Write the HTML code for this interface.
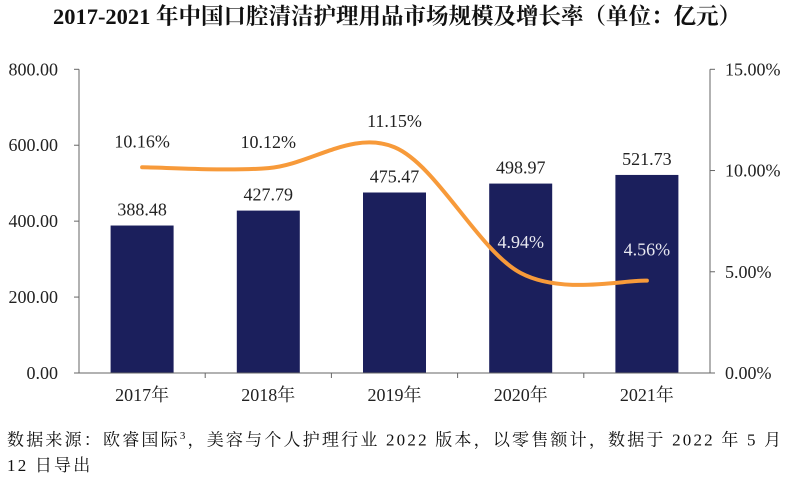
<!DOCTYPE html>
<html><head><meta charset="utf-8">
<style>
body{margin:0;width:795px;height:482px;background:#fff;overflow:hidden;font-family:"Liberation Serif","Noto Serif CJK SC",serif;}
svg text{font-family:"Liberation Serif","Noto Serif CJK SC",serif;}
.foot{position:absolute;left:7px;top:424px;width:788px;font-size:17px;line-height:25px;color:#111;letter-spacing:2.2px;white-space:nowrap;}
</style></head><body>
<svg id="c" width="795" height="482" style="position:absolute;left:0;top:0">
<text x="397" y="24" text-anchor="middle" font-size="22.5" font-weight="bold" fill="#111">2017-2021 年中国口腔清洁护理用品市场规模及增长率（单位：亿元）</text>
</svg>
<div class="foot">数据来源：欧睿国际<sup style="font-size:11px">3</sup>，美容与个人护理行业 2022 版本，以零售额计，数据于 2022 年 5 月<br>12 日导出</div>
<script>
const categories=["2017年","2018年","2019年","2020年","2021年"];
const sizes=[388.48,427.79,475.47,498.97,521.73];
const growth=[10.16,10.12,11.15,4.94,4.56];
const leftTicks=[0,200,400,600,800];
const rightTicks=[0,5,10,15];
const NS="http://www.w3.org/2000/svg";
const svg=document.getElementById('c');
const X0=79,X1=710,Y0=373,Y1=69.3;
const bw=(X1-X0)/categories.length;
const xc=i=>X0+bw*(i+0.5);
const yL=v=>Y0-(v/800)*(Y0-Y1);
const yR=v=>Y0-(v/15)*(Y0-Y1);
function mk(t,a){const e=document.createElementNS(NS,t);for(const k in a)e.setAttribute(k,a[k]);svg.appendChild(e);return e;}
let e=mk('line',{x1:X0,y1:Y1,x2:X0,y2:Y0,stroke:'#666','stroke-width':1});


e=mk('line',{x1:X1,y1:Y1,x2:X1,y2:Y0,stroke:'#666','stroke-width':1});


leftTicks.forEach(v=>{
 mk('line',{x1:X0-5,y1:yL(v),x2:X0,y2:yL(v),stroke:'#666'});
 const t=mk('text',{x:58,y:yL(v)+6,'text-anchor':'end','font-size':18,fill:'#222'});t.textContent=v.toFixed(2);
 
 
});
rightTicks.forEach(v=>{
 mk('line',{x1:X1,y1:yR(v),x2:X1+5,y2:yR(v),stroke:'#666'});
 const t=mk('text',{x:725,y:yR(v)+6,'font-size':18,fill:'#222'});t.textContent=v.toFixed(2)+'%';
 
 
});
sizes.forEach((v,i)=>{
 const r=mk('rect',{x:xc(i)-31.5,y:yL(v),width:63,height:Y0-yL(v),fill:'#1b1f5c'});
 
 
 const t=mk('text',{x:xc(i),y:yL(v)-10,'text-anchor':'middle','font-size':18,fill:'#222'});t.textContent=v.toFixed(2);
 
 
});
mk('line',{x1:X0,y1:Y0,x2:X1,y2:Y0,stroke:'#666'});
for(let i=1;i<categories.length;i++)mk('line',{x1:X0+bw*i,y1:Y0,x2:X0+bw*i,y2:Y0+5,stroke:'#666'});
categories.forEach((c,i)=>{const t=mk('text',{x:xc(i),y:401,'text-anchor':'middle','font-size':18,fill:'#222'});t.textContent=c;
 
 });
const pts=growth.map((v,i)=>[xc(i),yR(v)]);
let d='M'+pts[0][0]+','+pts[0][1];
for(let i=0;i<pts.length-1;i++){
 const p0=pts[i-1]||pts[i],p1=pts[i],p2=pts[i+1],p3=pts[i+2]||p2,k=1/6;
 d+=` C${p1[0]+(p2[0]-p0[0])*k},${p1[1]+(p2[1]-p0[1])*k} ${p2[0]-(p3[0]-p1[0])*k},${p2[1]-(p3[1]-p1[1])*k} ${p2[0]},${p2[1]}`;
}
const ln=mk('path',{d:d,fill:'none',stroke:'#f79a3a','stroke-width':4,'stroke-linecap':'round'});


growth.forEach((v,i)=>{
 const inside=v<8;
 const t=mk('text',{x:xc(i),y:inside?yR(v)-25:yR(v)-20,'text-anchor':'middle','font-size':18,fill:inside?'#e8e8f0':'#222'});
 t.textContent=v.toFixed(2)+'%';
 
 
});
</script>
</body></html>
